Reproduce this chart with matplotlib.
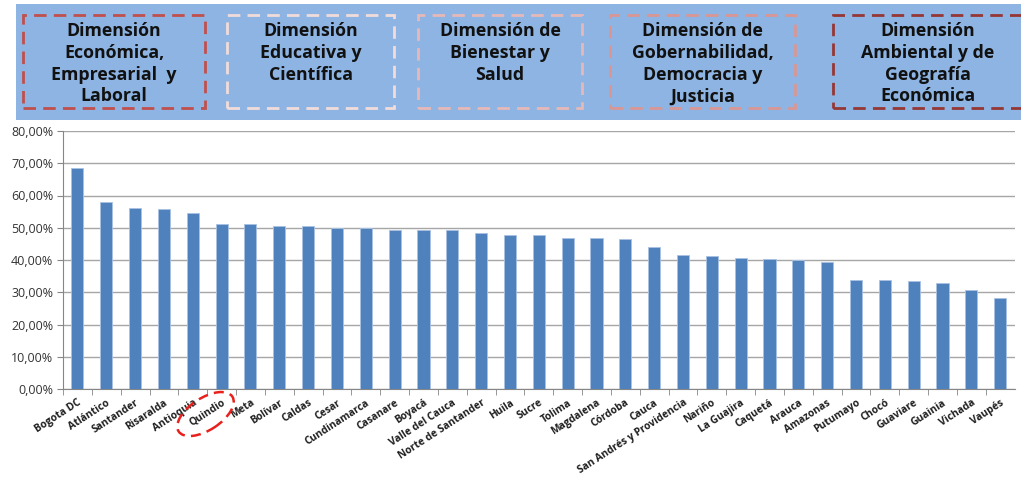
import matplotlib
matplotlib.use("Agg")
import matplotlib.pyplot as plt
from matplotlib.patches import Rectangle, Ellipse
from matplotlib.transforms import IdentityTransform
from matplotlib.ticker import FuncFormatter, FixedLocator

# ---------------- data ----------------
departamentos = ["Bogota DC", "Atlántico", "Santander", "Risaralda", "Antioquia", "Quindio",
                 "Meta", "Bolívar", "Caldas", "Cesar", "Cundinamarca", "Casanare", "Boyacá",
                 "Valle del Cauca", "Norte de Santander", "Huila", "Sucre", "Tolima",
                 "Magdalena", "Córdoba", "Cauca", "San Andrés y Providencia", "Nariño",
                 "La Guajira", "Caquetá", "Arauca", "Amazonas", "Putumayo", "Chocó",
                 "Guaviare", "Guainia", "Vichada", "Vaupés"]
valores = [68.4, 58.0, 56.0, 55.7, 54.7, 51.1, 51.1, 50.5, 50.5, 50.0, 50.0, 49.4, 49.4,
           49.2, 48.5, 47.9, 47.9, 46.9, 46.7, 46.4, 44.1, 41.5, 41.2, 40.7, 40.2, 39.9,
           39.3, 33.7, 33.7, 33.4, 32.8, 30.6, 28.1]
y_ticks = [0, 10, 20, 30, 40, 50, 60, 70, 80]
dimensiones = ["Dimensión\nEconómica,\nEmpresarial  y\nLaboral",
               "Dimensión\nEducativa y\nCientífica",
               "Dimensión de\nBienestar y\nSalud",
               "Dimensión de\nGobernabilidad,\nDemocracia y\nJusticia",
               "Dimensión\nAmbiental y de\nGeografía\nEconómica"]
dim_colores = ["#C0504D", "#F2DCDB", "#E6B9B8", "#D99694", "#953735"]
destacado = "Quindio"

# ---------------- figure ----------------
W, H = 1021, 491
fig = plt.figure(figsize=(W / 100, H / 100), dpi=100)
fig.patch.set_facecolor("white")

def fx(px):
    return px / W

def fy(py):
    return 1 - py / H

# banner
fig.patches.append(Rectangle((fx(16), fy(120)), fx(1021) - fx(16), fy(4) - fy(120),
                             transform=fig.transFigure, facecolor="#8DB4E2",
                             edgecolor="none", zorder=0))

boxes = [(23, 205), (227, 394), (418, 582), (610, 795), (833, 1030)]
for (x0, x1), txt, col in zip(boxes, dimensiones, dim_colores):
    fig.patches.append(Rectangle((fx(x0), fy(108)), fx(x1) - fx(x0), fy(15) - fy(108),
                                 transform=fig.transFigure, facecolor="none",
                                 edgecolor=col, linewidth=2.0,
                                 linestyle=(0, (4.5, 2.6)), zorder=1))
    cx = (x0 + x1) / 2 if x1 < 1021 else 928
    fig.text(fx(cx), fy(22), txt, ha="center", va="top", fontsize=12.8,
             fontweight="bold", family="Open Sans", color="#111111",
             linespacing=1.27, zorder=2)

# chart
ax = fig.add_axes([fx(63), fy(389), fx(1014.6) - fx(63), fy(131) - fy(389)])
x = list(range(len(departamentos)))
ax.bar(x, valores, width=0.42, color="#4F81BD", edgecolor="#A9C2E4",
       linewidth=0.6, zorder=3)
ax.set_xlim(-0.5, len(departamentos) - 0.5)
ax.set_ylim(0, 80)
ax.yaxis.set_major_locator(FixedLocator(y_ticks))
ax.yaxis.set_major_formatter(FuncFormatter(lambda v, p: f"{v:.2f}".replace(".", ",") + "%"))
ax.grid(axis="y", color="#A6A6A6", linewidth=1.0, zorder=0)
ax.set_axisbelow(True)
for s in ["top", "right"]:
    ax.spines[s].set_visible(False)
ax.spines["left"].set_color("#868686")
ax.spines["bottom"].set_color("#868686")
ax.tick_params(axis="y", direction="out", length=4, color="#868686",
               labelsize=9, labelcolor="#333333", pad=3)
for lab in ax.get_yticklabels():
    lab.set_family("Open Sans")

ax.set_xticks(x)
ax.set_xticklabels(departamentos, rotation=33, ha="right", rotation_mode="anchor",
                   fontsize=7.4, fontweight="bold", family="Open Sans", color="#1F1F1F")
ax.tick_params(axis="x", length=0, pad=6)
ax.set_xticks([i + 0.5 for i in x[:-1]] + [-0.5], minor=True)
ax.tick_params(axis="x", which="minor", direction="out", length=4, color="#868686")

# dashed ellipse around highlighted label
fig.canvas.draw()
renderer = fig.canvas.get_renderer()
idx = departamentos.index(destacado)
ext = ax.get_xticklabels()[idx].get_window_extent(renderer)
cxp, cyp = (ext.x0 + ext.x1) / 2, (ext.y0 + ext.y1) / 2
fig.patches.append(Ellipse((cxp - 2, cyp - 1), 64, 32, angle=33, transform=IdentityTransform(),
                           facecolor="none", edgecolor="#E8211C", linewidth=1.8,
                           linestyle=(0, (4, 2.5)), zorder=5))

fig.savefig("out.png", dpi=100)
